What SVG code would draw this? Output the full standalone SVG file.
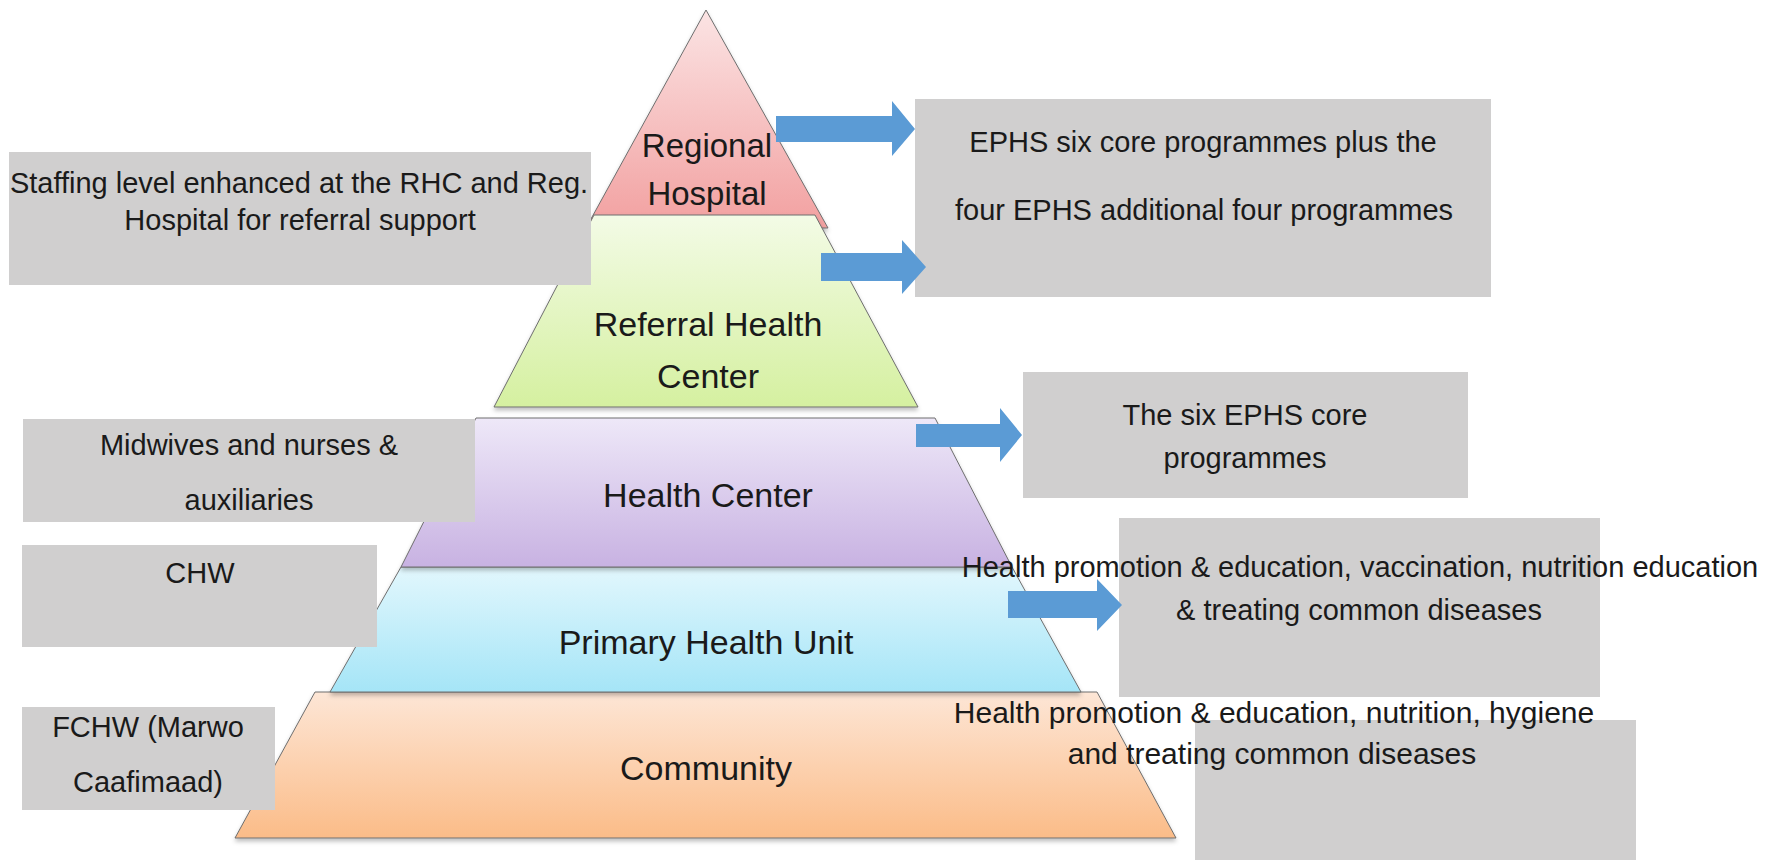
<svg xmlns="http://www.w3.org/2000/svg" width="1773" height="861" viewBox="0 0 1773 861">
<defs>
<linearGradient id="gRed" x1="0" y1="0" x2="0" y2="1"><stop offset="0" stop-color="#fbe4e4"/><stop offset="1" stop-color="#f2a0a0"/></linearGradient>
<linearGradient id="gGreen" x1="0" y1="0" x2="0" y2="1"><stop offset="0" stop-color="#f3fbe6"/><stop offset="1" stop-color="#d5f0a0"/></linearGradient>
<linearGradient id="gPurple" x1="0" y1="0" x2="0" y2="1"><stop offset="0" stop-color="#eee8f8"/><stop offset="1" stop-color="#c8b2e2"/></linearGradient>
<linearGradient id="gCyan" x1="0" y1="0" x2="0" y2="1"><stop offset="0" stop-color="#e2f7fd"/><stop offset="1" stop-color="#a5e5f7"/></linearGradient>
<linearGradient id="gOrange" x1="0" y1="0" x2="0" y2="1"><stop offset="0" stop-color="#fde6d6"/><stop offset="1" stop-color="#fbbc88"/></linearGradient>
<filter id="sh" x="-5%" y="-5%" width="110%" height="120%"><feDropShadow dx="0" dy="3" stdDeviation="2" flood-color="#000" flood-opacity="0.25"/></filter>
</defs>
<style>
.layer{stroke:#6e6e6e;stroke-width:1;filter:url(#sh)}
.lbl{font-family:"Liberation Sans",Arial,sans-serif;font-size:34px;fill:#1a1a1a;text-anchor:middle}
.box{fill:#d0cfcf}
.txt{font-family:"Liberation Sans",Arial,sans-serif;font-size:29px;fill:#1a1a1a;text-anchor:middle}
.arrow{fill:#5b9bd5}
</style>
<rect width="1773" height="861" fill="#ffffff"/>

<g id="community">
<polygon class="layer" fill="url(#gOrange)" points="315,692 1097,692 1176,838 235,838"/>
<text class="lbl" x="706" y="780">Community</text>
</g>
<g id="primary-health-unit">
<polygon class="layer" fill="url(#gCyan)" points="401,567 1012,567 1081,692 330,692"/>
<text class="lbl" x="706" y="654">Primary Health Unit</text>
</g>
<g id="health-center">
<polygon class="layer" fill="url(#gPurple)" points="476,418 935,418 1012,567 401,567"/>
<text class="lbl" x="708" y="507">Health Center</text>
</g>
<g id="regional-hospital">
<polygon class="layer" fill="url(#gRed)" points="706,10 828,228 586,228"/>
</g>
<g id="referral-health-center">
<polygon class="layer" fill="url(#gGreen)" points="594,215 815,215 918,407 494,407"/>
<text class="lbl" x="708" y="336">Referral Health</text>
<text class="lbl" x="708" y="388">Center</text>
</g>
<g id="regional-hospital-label">
<text class="lbl" style="font-size:33px" x="707" y="157">Regional</text>
<text class="lbl" style="font-size:33px" x="707" y="205">Hospital</text>
</g>

<g id="staffing-box">
<rect class="box" x="9" y="152" width="582" height="133"/>
<text class="txt" x="299" y="193">Staffing level enhanced at the RHC and Reg.</text>
<text class="txt" x="300" y="230">Hospital for referral support</text>
</g>
<g id="midwives-box">
<rect class="box" x="23" y="419" width="452" height="103"/>
<text class="txt" x="249" y="455">Midwives and nurses &amp;</text>
<text class="txt" x="249" y="510">auxiliaries</text>
</g>
<g id="chw-box">
<rect class="box" x="22" y="545" width="355" height="102"/>
<text class="txt" x="200" y="583">CHW</text>
</g>
<g id="fchw-box">
<rect class="box" x="22" y="707" width="253" height="103"/>
<text class="txt" x="148" y="737">FCHW (Marwo</text>
<text class="txt" x="148" y="792">Caafimaad)</text>
</g>

<g id="ephs-box">
<rect class="box" x="915" y="99" width="576" height="198"/>
<text class="txt" x="1203" y="152">EPHS six core programmes plus the</text>
<text class="txt" x="1204" y="220">four EPHS additional four programmes</text>
</g>
<g id="six-core-box">
<rect class="box" x="1023" y="372" width="445" height="126"/>
<text class="txt" x="1245" y="425">The six EPHS core</text>
<text class="txt" x="1245" y="468">programmes</text>
</g>
<g id="phu-box">
<rect class="box" x="1119" y="518" width="481" height="179"/>
<text class="txt" x="1360" y="577">Health promotion &amp; education, vaccination, nutrition education</text>
<text class="txt" x="1359" y="620">&amp; treating common diseases</text>
</g>
<g id="community-box">
<rect class="box" x="1195" y="720" width="441" height="140"/>
<text class="txt" style="font-size:30px" x="1274" y="723">Health promotion &amp; education, nutrition, hygiene</text>
<text class="txt" style="font-size:30px" x="1272" y="764">and treating common diseases</text>
</g>

<g id="connectors">
<polygon class="arrow" points="776,116 892,116 892,101 915,129 892,156 892,142 776,142"/>
<polygon class="arrow" points="821,253 902,253 902,240 926,267 902,294 902,281 821,281"/>
<polygon class="arrow" points="916,424 1000,424 1000,408 1022,435 1000,462 1000,447 916,447"/>
<polygon class="arrow" points="1008,591 1097,591 1097,579 1122,605 1097,631 1097,618 1008,618"/>
</g>
</svg>
